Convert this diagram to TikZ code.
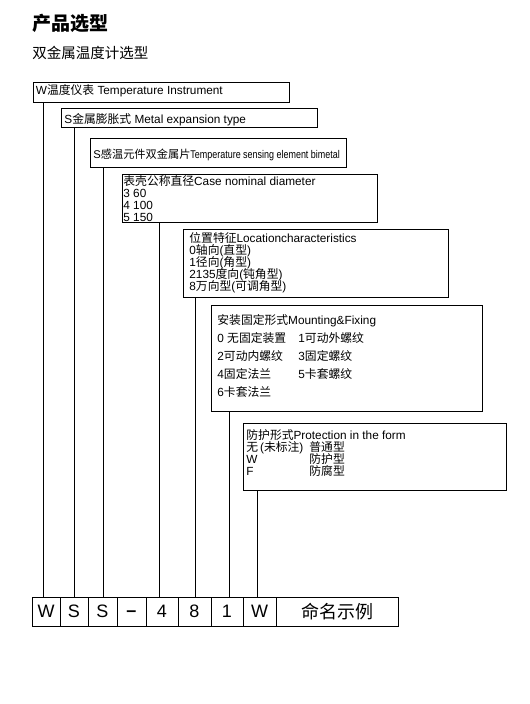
\documentclass[tikz,border=0pt]{standalone}
\usepackage{fontspec}
\setmainfont{Liberation Sans}
\newfontfamily\cjk{Noto Sans CJK SC}
\newfontfamily\narrowfont[FakeStretch=0.8]{Liberation Sans}
\newcommand\zh[1]{{\cjk #1}}
\setlength\lineskiplimit{-100pt}
\usetikzlibrary{positioning}

\begin{document}
\begin{tikzpicture}[x=1pt,y=-1pt,line width=0.8pt]
  \tikzstyle{box}=[draw, anchor=north west, inner sep=0pt, outer sep=0pt]
  \tikzstyle{txt}=[anchor=base west, inner sep=0pt, align=left, font=\fontsize{11.8}{11.8}\selectfont]
  \tikzstyle{cell}=[draw, minimum height=29pt, inner sep=0pt, outer sep=0pt, font=\fontsize{18}{18}\selectfont]

  \useasboundingbox (0,0) rectangle (530,704);

  \node[anchor=base west, inner sep=0pt, font=\cjk\bfseries\fontsize{19}{19}\selectfont] (title) at (32,30) {产品选型};
  \node[anchor=base west, inner sep=0pt, font=\cjk\fontsize{14.5}{14.5}\selectfont] (subtitle) at (32,58.5) {双金属温度计选型};

  % boxes
  \node[box, minimum width=256pt, minimum height=20pt]  (b1) at (33,82)  {};
  \node[box, minimum width=256pt, minimum height=19pt]  (b2) at (61,108) {};
  \node[box, minimum width=256pt, minimum height=29pt]  (b3) at (90,138) {};
  \node[box, minimum width=255pt, minimum height=48pt]  (b4) at (122,174) {};
  \node[box, minimum width=265pt, minimum height=68pt]  (b5) at (183,229) {};
  \node[box, minimum width=271pt, minimum height=106pt] (b6) at (211,305) {};
  \node[box, minimum width=263pt, minimum height=67pt]  (b7) at (243,423) {};

  % texts (multi-line ones sit on their last baseline)
  \node[txt] (t1) at (35.5,94.5) {W\zh{温度仪表} Temperature Instrument};
  \node[txt] (t2) at (64,123) {S\zh{金属膨胀式} Metal expansion type};
  \node[txt, font=\fontsize{11.2}{11.2}\selectfont] (t3) at (93,158)
    {S\zh{感温元件双金属片}{\narrowfont Temperature sensing element bimetal}};
  \node[txt] (t4) at (123,221) {\zh{表壳公称直径}Case nominal diameter\\3 60\\4 100\\5 150};
  \node[txt, font=\fontsize{11.8}{11.9}\selectfont] (t5) at (189,290.5)
    {\zh{位置特征}Locationcharacteristics\\0\zh{轴向}(\zh{直型})\\1\zh{径向}(\zh{角型})\\2135\zh{度向}(\zh{钝角型})\\8\zh{万向型}(\zh{可调角型})};
  \node[txt, font=\fontsize{11.8}{18}\selectfont] (t6) at (217,396.5)
    {\zh{安装固定形式}Mounting\&Fixing\\
     \makebox[81pt][l]{0 \zh{无固定装置}}1\zh{可动外螺纹}\\
     \makebox[81pt][l]{2\zh{可动内螺纹}}3\zh{固定螺纹}\\
     \makebox[81pt][l]{4\zh{固定法兰}}5\zh{卡套螺纹}\\
     6\zh{卡套法兰}};
  \node[txt] (t7) at (246,475)
    {\zh{防护形式}Protection in the form\\
     \makebox[63pt][l]{\zh{无}\,(\zh{未标注})}\zh{普通型}\\
     \makebox[63pt][l]{W}\zh{防护型}\\
     \makebox[63pt][l]{F}\zh{防腐型}};

  % naming example
  \node[cell, minimum width=28pt, anchor=north west] (cW1) at (32,597) {W};
  \node[cell, minimum width=28pt, right=0pt of cW1] (cS1) {S};
  \node[cell, minimum width=29pt, right=0pt of cS1] (cS2) {S};
  \node[cell, minimum width=29pt, right=0pt of cS2] (cdash) {\smash{\raisebox{-5pt}{\textbf{–}}}};
  \node[cell, minimum width=32pt, right=0pt of cdash] (c4) {4};
  \node[cell, minimum width=33pt, right=0pt of c4] (c8) {8};
  \node[cell, minimum width=32pt, right=0pt of c8] (c1) {1};
  \node[cell, minimum width=33pt, right=0pt of c1] (cW2) {W};
  \node[cell, minimum width=122pt, right=0pt of cW2] (cname) {\zh{命名示例}};

  % connectors
  \foreach \b/\dx in {b1/10, b2/13, b3/13, b4/37, b5/12, b6/18, b7/14}
    \draw ([xshift=\dx pt]\b.south west) -- ([xshift=\dx pt]\b.south west |- cW1.north);
\end{tikzpicture}
\end{document}
